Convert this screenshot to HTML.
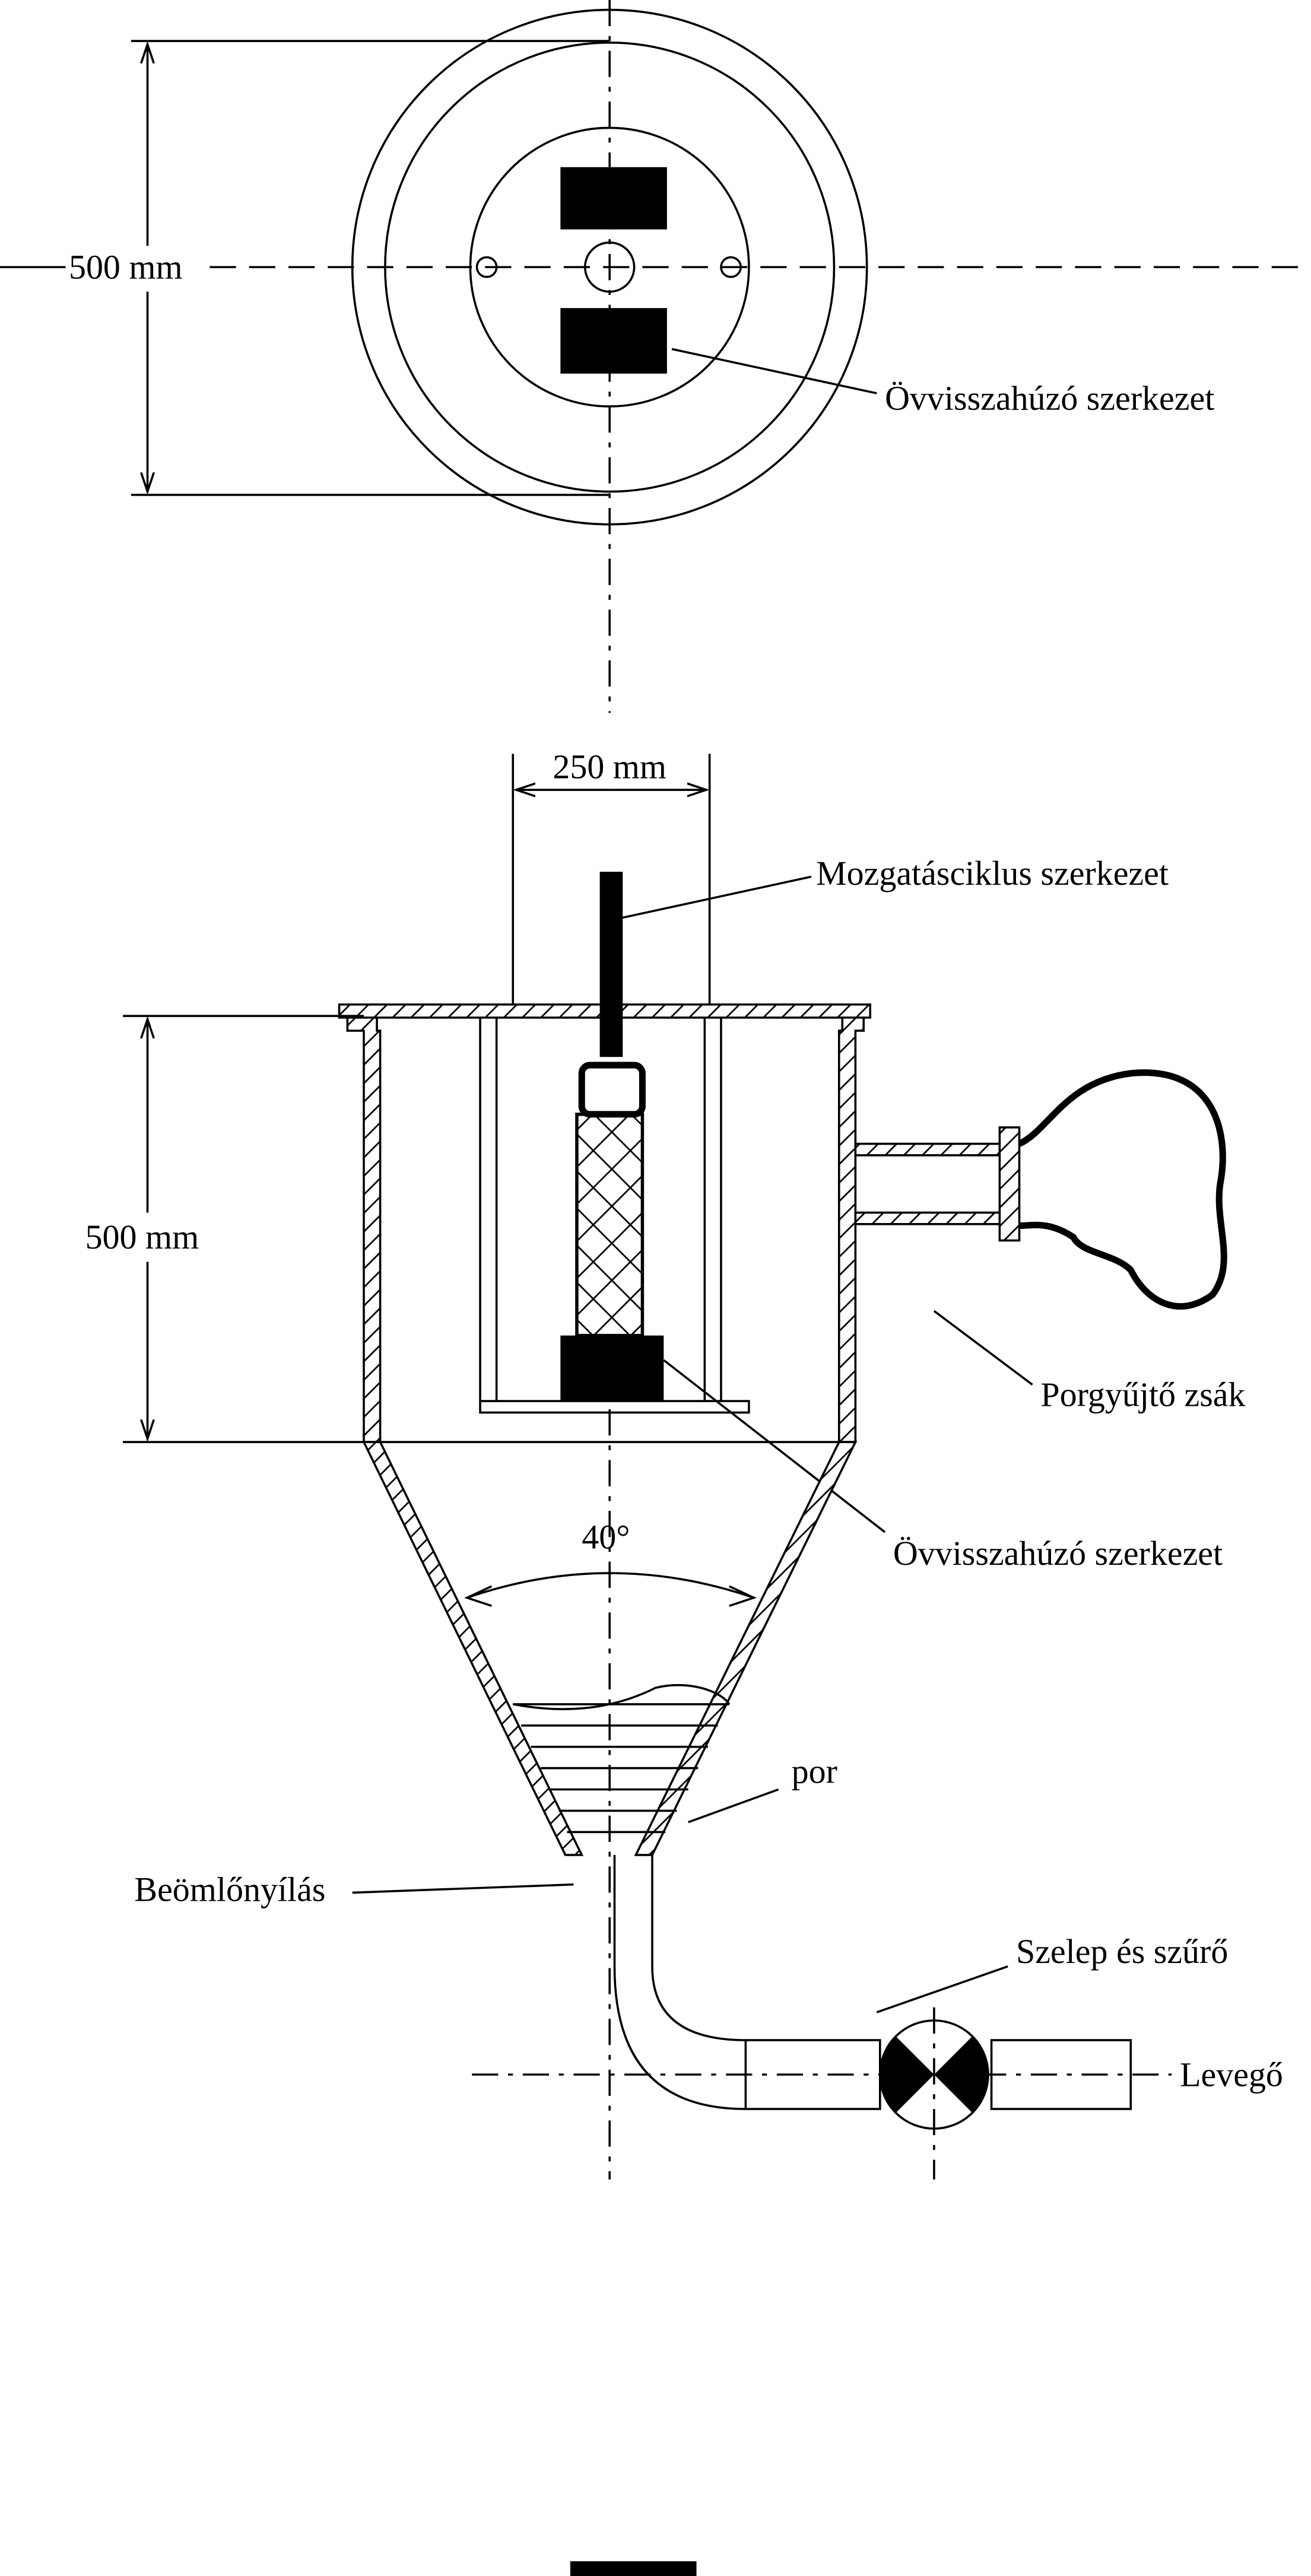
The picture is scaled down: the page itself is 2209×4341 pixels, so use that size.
<!DOCTYPE html>
<html><head><meta charset="utf-8"><style>
html,body{margin:0;padding:0;background:#fff;}
svg{display:block;}
text{font-family:"Liberation Serif",serif;font-size:21px;fill:#000;}
</style></head><body>
<svg width="2209" height="4341" viewBox="0 0 800 1572" preserveAspectRatio="none" xmlns="http://www.w3.org/2000/svg">
<defs>
<pattern id="h" width="8" height="8" patternUnits="userSpaceOnUse" patternTransform="rotate(45)">
<rect width="8" height="8" fill="#fff"/><line x1="0" y1="0" x2="0" y2="8" stroke="#000" stroke-width="2"/></pattern>
<pattern id="x" width="16" height="16" patternUnits="userSpaceOnUse" patternTransform="rotate(45)">
<rect width="16" height="16" fill="#fff"/><path d="M0 0V16M0 0H16" stroke="#000" stroke-width="2"/></pattern>
<marker id="a" markerWidth="10" markerHeight="10" refX="9" refY="5" orient="auto"><path d="M0 2L9 5L0 8" fill="none" stroke="#000"/></marker>
<clipPath id="vc"><circle cx="570" cy="1266" r="33"/></clipPath>
</defs>
<g fill="none" stroke="#000" stroke-width="1.3">
<circle cx="372" cy="163" r="157"/>
<circle cx="372" cy="163" r="137"/>
<circle cx="372" cy="163" r="85"/>
<circle cx="372" cy="163" r="15"/>
<circle cx="297" cy="163" r="6"/>
<circle cx="446" cy="163" r="6"/>
<line x1="0" y1="163" x2="40" y2="163"/>
<line x1="128" y1="163" x2="800" y2="163" stroke-dasharray="16,8"/>
<line x1="372" y1="0" x2="372" y2="435" stroke-dasharray="16,6,3,6"/>
<line x1="80" y1="25" x2="372" y2="25"/>
<line x1="80" y1="302" x2="372" y2="302"/>
<line x1="90" y1="150" x2="90" y2="27" marker-end="url(#a)"/>
<line x1="90" y1="178" x2="90" y2="300" marker-end="url(#a)"/>
<line x1="410" y1="213" x2="535" y2="240"/>
<line x1="313" y1="460" x2="313" y2="613"/>
<line x1="433" y1="460" x2="433" y2="613"/>
<line x1="372" y1="482" x2="315" y2="482" marker-end="url(#a)"/>
<line x1="372" y1="482" x2="431" y2="482" marker-end="url(#a)"/>
<line x1="380" y1="560" x2="495" y2="535"/>
<rect x="207" y="613" width="324" height="8" fill="url(#h)"/>
<path d="M212 621H230V629H232V880H222V629H212Z" fill="url(#h)"/>
<path d="M527 621H514V629H512V880H522V629H527Z" fill="url(#h)"/>
<line x1="293" y1="621" x2="293" y2="855"/><line x1="303" y1="621" x2="303" y2="855"/>
<line x1="430" y1="621" x2="430" y2="855"/><line x1="440" y1="621" x2="440" y2="855"/>
<rect x="293" y="855" width="164" height="7"/>
<rect x="352" y="680" width="40" height="135" fill="url(#x)" stroke-width="2"/>
<rect x="355" y="650" width="37" height="30" rx="5" stroke-width="4"/>
<rect x="522" y="698" width="88" height="7" fill="url(#h)"/>
<rect x="522" y="740" width="88" height="7" fill="url(#h)"/>
<rect x="610" y="688" width="12" height="69" fill="url(#h)"/>
<path d="M622 698C640 690 650 660 690 655C740 650 750 690 745 720C740 745 755 770 740 790C720 805 700 795 690 775C680 765 660 765 655 755C640 745 630 748 622 748" stroke-width="4"/>
<line x1="570" y1="800" x2="630" y2="845"/>
<line x1="222" y1="880" x2="522" y2="880"/>
<line x1="75" y1="620" x2="222" y2="620"/>
<line x1="75" y1="880" x2="222" y2="880"/>
<line x1="90" y1="740" x2="90" y2="622" marker-end="url(#a)"/>
<line x1="90" y1="770" x2="90" y2="878" marker-end="url(#a)"/>
<line x1="372" y1="860" x2="372" y2="1330" stroke-dasharray="16,6,3,6"/>
<line x1="405" y1="830" x2="540" y2="935"/>
<path d="M222 880L232 880L355 1132L345 1132Z" fill="url(#h)"/>
<path d="M512 880L522 880L398 1132L388 1132Z" fill="url(#h)"/>
<path d="M285 975Q372 945 460 975"/>
<path d="M300 968L285 975L300 980"/><path d="M445 968L460 975L445 980"/>
<path d="M313 1040C340 1045 370 1045 400 1030C420 1025 440 1032 445 1040"/>
<line x1="313" y1="1040" x2="445" y2="1040"/>
<line x1="318" y1="1053" x2="438" y2="1053"/>
<line x1="324" y1="1066" x2="432" y2="1066"/>
<line x1="330" y1="1079" x2="426" y2="1079"/>
<line x1="336" y1="1092" x2="420" y2="1092"/>
<line x1="341" y1="1105" x2="413" y2="1105"/>
<line x1="346" y1="1118" x2="406" y2="1118"/>
<line x1="420" y1="1112" x2="475" y2="1092"/>
<line x1="215" y1="1155" x2="350" y2="1150"/>
<path d="M375 1132V1200Q375 1287 455 1287"/>
<path d="M398 1132V1200Q398 1245 455 1245"/>
<rect x="455" y="1245" width="82" height="42"/>
<rect x="605" y="1245" width="85" height="42"/>
<circle cx="570" cy="1266" r="33"/>
<line x1="288" y1="1266" x2="715" y2="1266" stroke-dasharray="16,6,3,6"/>
<line x1="570" y1="1225" x2="570" y2="1330" stroke-dasharray="16,6,3,6"/>
<line x1="535" y1="1228" x2="615" y2="1200"/>
</g>
<g fill="#000">
<rect x="342" y="102" width="65" height="38"/>
<rect x="342" y="188" width="65" height="40"/>
<rect x="366" y="532" width="14" height="113"/>
<rect x="342" y="815" width="63" height="40"/>
<g clip-path="url(#vc)"><path d="M530 1226L570 1266L530 1306Z"/><path d="M610 1226L570 1266L610 1306Z"/></g>
<rect x="348" y="1563" width="77" height="9"/>
</g>
<text x="42" y="170">500 mm</text>
<text x="540" y="250">Övvisszahúzó szerkezet</text>
<text x="372" y="475" text-anchor="middle">250 mm</text>
<text x="498" y="540">Mozgatásciklus szerkezet</text>
<text x="52" y="762">500 mm</text>
<text x="635" y="858">Porgyűjtő zsák</text>
<text x="545" y="955">Övvisszahúzó szerkezet</text>
<text x="355" y="945">40°</text>
<text x="483" y="1088">por</text>
<text x="82" y="1160">Beömlőnyílás</text>
<text x="620" y="1198">Szelep és szűrő</text>
<text x="720" y="1273">Levegő</text>
</svg>
</body></html>
